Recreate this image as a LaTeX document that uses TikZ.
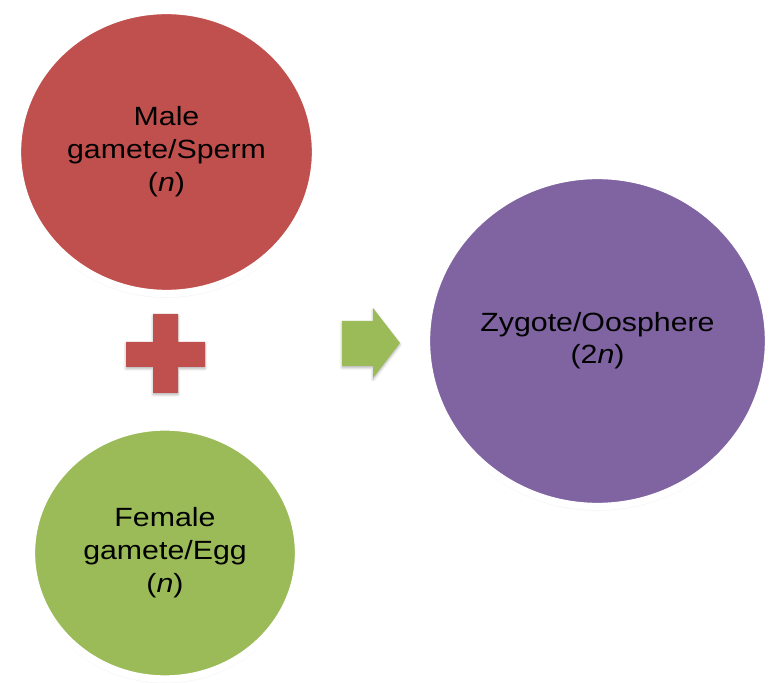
\documentclass[tikz,border=0pt]{standalone}
\usepackage{fontspec}
\setmainfont{Liberation Sans}
\usetikzlibrary{shapes.geometric, shadows.blur}
\definecolor{GameteRed}{RGB}{192, 80, 77}
\definecolor{GameteGreen}{RGB}{155, 187, 89}
\definecolor{ZygotePurple}{RGB}{128, 100, 162}
\newcommand*\stretched[1]{\scalebox{1.15}[1]{\begin{tabular}{@{}c@{}}#1\end{tabular}}}

\begin{document}
\begin{tikzpicture}[x=0.03cm, y=-0.03cm,
    cell/.style={ellipse, draw=white, line width=0.22cm, inner sep=0pt,
        font=\fontsize{22.5}{28}\selectfont,
        blur shadow={shadow xshift=0pt, shadow yshift=-2pt, shadow opacity=25, shadow blur steps=6}},
    sign/.style={blur shadow={shadow xshift=0pt, shadow yshift=-1.5pt, shadow opacity=30, shadow blur steps=4}}]

\useasboundingbox (0,0) rectangle (770,683);

% the two gametes
\node[cell, fill=GameteRed, minimum width=8.94cm, minimum height=8.49cm] (sperm) at (166.5,152) {\stretched{Male\\gamete/Sperm\\(\textit{n})}};
\node[cell, fill=GameteGreen, minimum width=8.01cm, minimum height=7.56cm] (egg) at (165,553) {\stretched{Female\\gamete/Egg\\(\textit{n})}};

% the result
\node[cell, fill=ZygotePurple, minimum width=10.26cm, minimum height=9.93cm] (zygote) at (597.5,341) {\stretched{Zygote/Oosphere\\(2\textit{n})}};

% plus sign
\fill[GameteRed, sign] (153,314) -- (178,314) -- (178,342) -- (205,342) -- (205,367) -- (178,367)
    -- (178,393) -- (153,393) -- (153,367) -- (126,367) -- (126,342) -- (153,342) -- cycle;

% arrow
\fill[GameteGreen, sign] (342,321) -- (373,321) -- (373,308) -- (400,343) -- (373,378) -- (373,366) -- (342,366) -- cycle;

\end{tikzpicture}
\end{document}
